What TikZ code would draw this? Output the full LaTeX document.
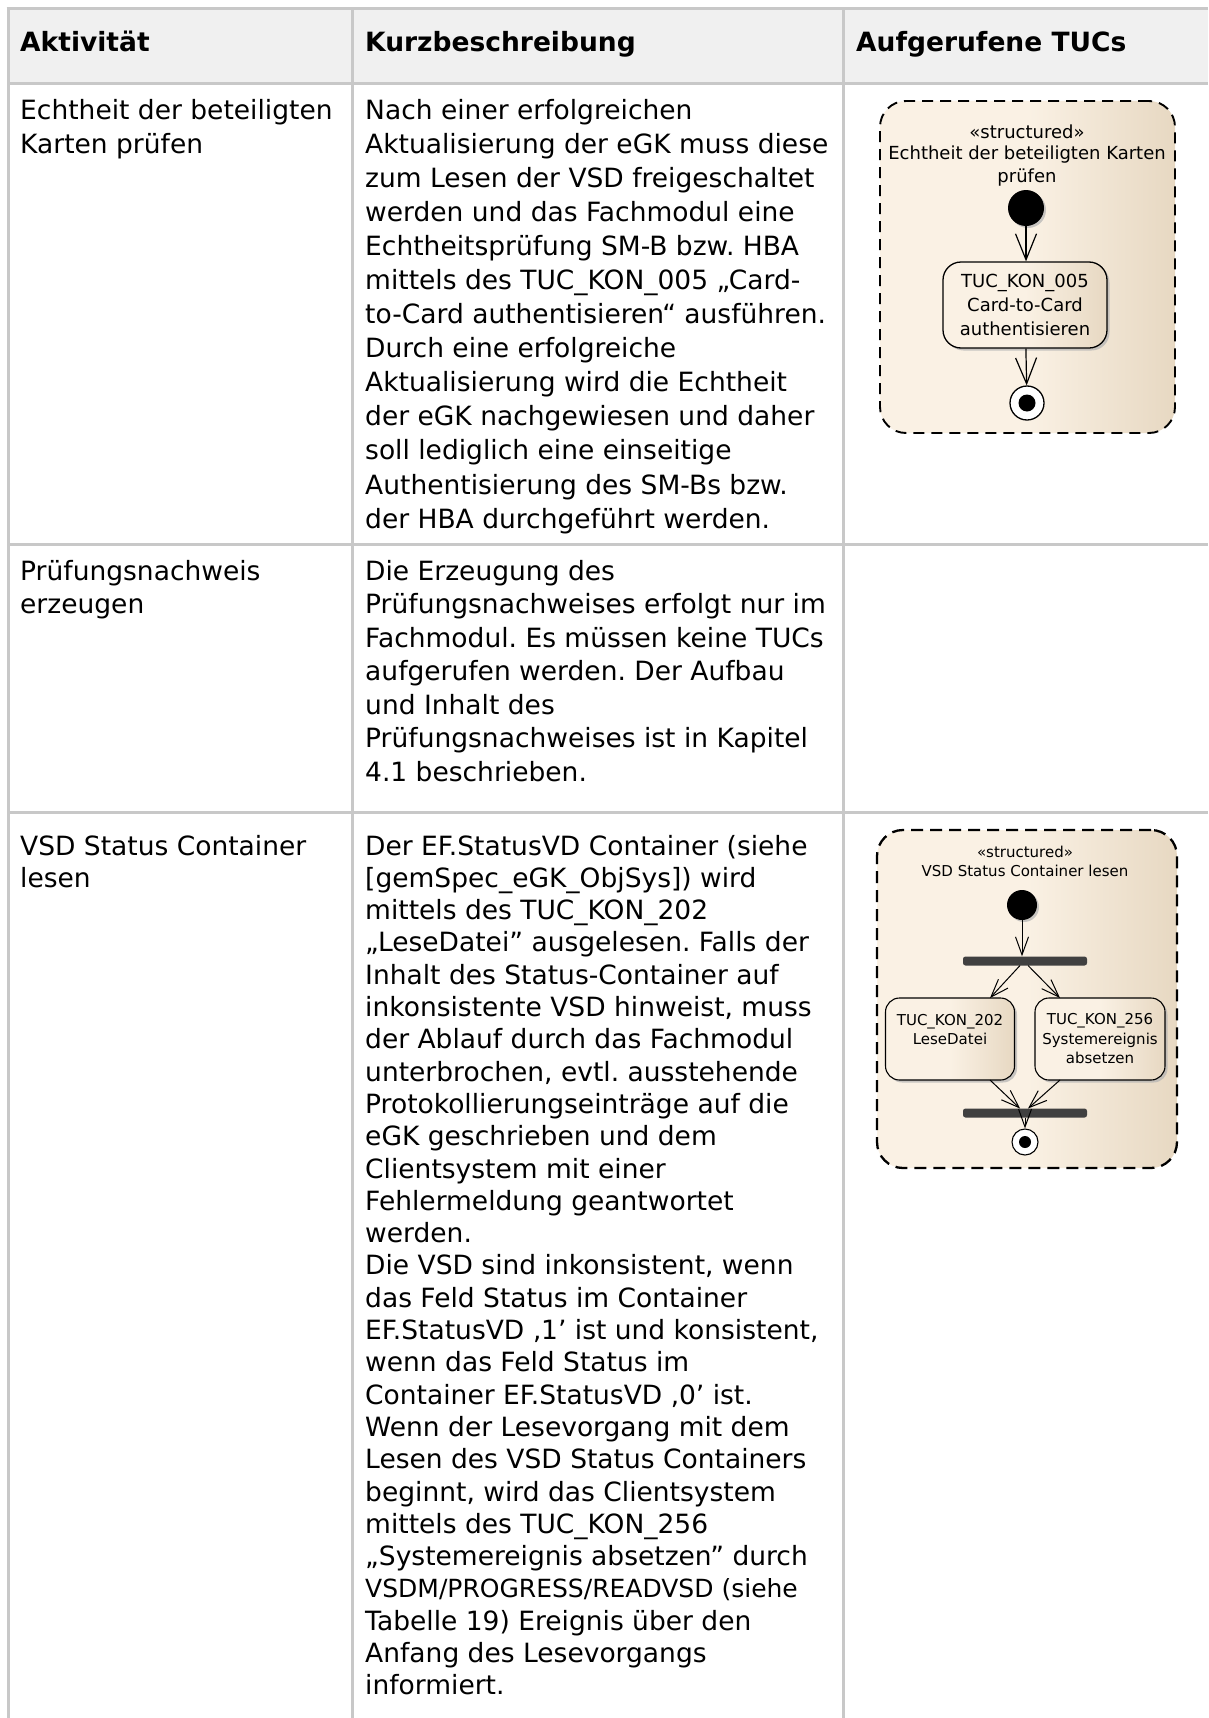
\documentclass[tikz,border=0pt]{standalone}
\usepackage{fontspec}
\setmainfont{DejaVu Sans}
\usetikzlibrary{arrows.meta,shadows}

\definecolor{gridline}{RGB}{200,200,200}
\definecolor{headbg}{RGB}{240,240,240}
\definecolor{creamL}{RGB}{250,241,228}
\definecolor{creamR}{RGB}{231,216,194}
\definecolor{barfill}{RGB}{64,64,64}

\newcommand\bodyfont{\fontsize{26.5}{34}\selectfont}
\newcommand\bodyfontB{\fontsize{26.5}{33.5}\selectfont}
\newcommand\bodyfontC{\fontsize{26.5}{32.3}\selectfont}
\newcommand\diafontA{\fontsize{18}{24}\selectfont}
\newcommand\diafontB{\fontsize{15}{19.5}\selectfont}
\newcommand\us{\textunderscore}
\newcommand\lines[1]{\begin{tabular}[t]{@{}l@{}}#1\end{tabular}}

\tikzset{
  tabline/.style={draw=gridline, line width=3pt},
  celltext/.style={anchor=base west, inner sep=0pt, font=\bodyfont},
  headtext/.style={anchor=base west, inner sep=0pt, font=\bodyfont\bfseries},
  container/.style={draw=black, line width=1.9pt, dash pattern=on 11pt off 7pt,
    rounded corners=26pt, inner sep=0pt,
    left color=creamL, right color=creamR, middle color=creamL},
  actionA/.style={draw=black, line width=1.3pt, rounded corners=18pt, inner sep=0pt,
    align=center, font=\diafontA,
    left color=creamL, right color=creamR, middle color=creamL,
    drop shadow={shadow xshift=2.5pt, shadow yshift=-2.5pt, fill=gray!60, opacity=.7}},
  actionB/.style={actionA, rounded corners=14pt, font=\diafontB, line width=1.1pt},
  titletext/.style={inner sep=0pt, align=center},
  startnode/.style={circle, fill=black, inner sep=0pt,
    drop shadow={shadow xshift=2pt, shadow yshift=-2pt, fill=gray!60, opacity=.7}},
  endring/.style={circle, draw=black, fill=white, inner sep=0pt, line width=1.3pt},
  enddot/.style={circle, fill=black, inner sep=0pt},
  forkbar/.style={fill=barfill, rounded corners=2.5pt, inner sep=0pt,
    minimum width=124pt, minimum height=9pt},
  flowA/.style={-{Straight Barb[length=26pt,width=21pt,line width=1.2pt]}, line width=1.2pt},
  flowB/.style={-{Straight Barb[length=18pt,width=13pt,line width=1pt]}, line width=1pt}
}

\begin{document}
\frenchspacing
\begin{tikzpicture}[x=1pt,y=-1pt]
\useasboundingbox (0,0) rectangle (1208,1718);
\fill[white] (0,0) rectangle (1208,1718);

% header background and table rules
\fill[headbg] (8,9) rectangle (1208,84);
\draw[tabline] (6.5,9) -- (1208,9);
\draw[tabline] (8,84) -- (1208,84);
\draw[tabline] (8,544) -- (1208,544);
\draw[tabline] (8,812) -- (1208,812);
\draw[tabline] (8,9) -- (8,1718);
\draw[tabline] (352,9) -- (352,1718);
\draw[tabline] (843,9) -- (843,1718);

% header
\node[headtext] (hA) at (20,52) {Aktivität};
\node[headtext] (hB) at (365,52) {Kurzbeschreibung};
\node[headtext] (hC) at (856,52) {Aufgerufene TUCs};

% row 1
\node[celltext] (a1) at (20,120) {\lines{Echtheit der beteiligten\\Karten prüfen}};
\node[celltext] (b1) at (365,120) {\lines{Nach einer erfolgreichen\\
Aktualisierung der eGK muss diese\\
zum Lesen der VSD freigeschaltet\\
werden und das Fachmodul eine\\
Echtheitsprüfung SM-B bzw. HBA\\
mittels des TUC\us KON\us 005 „Card-\\
to-Card authentisieren“ ausführen.\\
Durch eine erfolgreiche\\
Aktualisierung wird die Echtheit\\
der eGK nachgewiesen und daher\\
soll lediglich eine einseitige\\
Authentisierung des SM-Bs bzw.\\
der HBA durchgeführt werden.}};

% row 2
\node[celltext, font=\bodyfontB] (a2) at (20,580) {\lines{Prüfungsnachweis\\erzeugen}};
\node[celltext, font=\bodyfontB] (b2) at (365,580) {\lines{Die Erzeugung des\\
Prüfungsnachweises erfolgt nur im\\
Fachmodul. Es müssen keine TUCs\\
aufgerufen werden. Der Aufbau\\
und Inhalt des\\
Prüfungsnachweises ist in Kapitel\\
4.1 beschrieben.}};

% row 3
\node[celltext, font=\bodyfontC] (a3) at (20,855) {\lines{VSD Status Container\\lesen}};
\node[celltext, font=\bodyfontC] (b3) at (365,855) {\lines{Der EF.StatusVD Container (siehe\\{}[gemSpec\us eGK\us ObjSys]) wird\\
mittels des TUC\us KON\us 202\\
„LeseDatei” ausgelesen. Falls der\\
Inhalt des Status-Container auf\\
inkonsistente VSD hinweist, muss\\
der Ablauf durch das Fachmodul\\
unterbrochen, evtl. ausstehende\\
Protokollierungseinträge auf die\\
eGK geschrieben und dem\\
Clientsystem mit einer\\
Fehlermeldung geantwortet\\
werden.\\
Die VSD sind inkonsistent, wenn\\
das Feld Status im Container\\
EF.StatusVD ‚1’ ist und konsistent,\\
wenn das Feld Status im\\
Container EF.StatusVD ‚0’ ist.\\
Wenn der Lesevorgang mit dem\\
Lesen des VSD Status Containers\\
beginnt, wird das Clientsystem\\
mittels des TUC\us KON\us 256\\
„Systemereignis absetzen” durch\\
{\fontsize{25}{32.3}\selectfont VSDM/PROGRESS/READVSD (siehe}\\
Tabelle 19) Ereignis über den\\
Anfang des Lesevorgangs\\
informiert.}};

% activity: Echtheit der beteiligten Karten pruefen
\node[container, minimum width=295pt, minimum height=332pt] (boxA) at (1027.5,267) {};
\node[titletext, font=\diafontA] (stA) at (1027,132) {«structured»};
\node[titletext, font=\diafontA] (tA1) at (1027,155) {Echtheit der beteiligten Karten};
\node[titletext, font=\diafontA] (tA2) at (1027,178) {prüfen};
\node[startnode, minimum size=36pt] (iniA) at (1026,208) {};
\node[actionA, minimum width=164pt, minimum height=86pt] (tuc005) at (1025,305)
  {TUC\us KON\us 005\\Card-to-Card\\authentisieren};
\node[endring, minimum size=34pt] (finA) at (1027,403) {};
\node[enddot, minimum size=17pt] (finAdot) at (finA) {};
\draw[flowA] (iniA) -- (iniA |- tuc005.north);
\draw[flowA] (tuc005) -- (finA);

% activity: VSD Status Container lesen
\node[container, line width=2.3pt, dash pattern=on 12pt off 7pt,
  minimum width=300pt, minimum height=338pt] (boxB) at (1027,999) {};
\node[titletext, font=\diafontB] (stB) at (1025,852) {«structured»};
\node[titletext, font=\diafontB] (tB) at (1025,871) {VSD Status Container lesen};
\node[startnode, minimum size=30pt] (iniB) at (1022,905) {};
\node[forkbar] (fork) at (1025,961) {};
\node[actionB, minimum width=129pt, minimum height=82pt] (tuc202) at (950,1039)
  {TUC\us KON\us 202\\LeseDatei\\[0pt]\phantom{x}};
\node[actionB, minimum width=130pt, minimum height=82pt] (tuc256) at (1100,1039)
  {TUC\us KON\us 256\\Systemereignis\\absetzen};
\node[forkbar] (join) at (1025,1113) {};
\node[endring, minimum size=26pt, line width=1.1pt] (finB) at (1025,1142) {};
\node[enddot, minimum size=12pt] (finBdot) at (finB) {};
\coordinate (forkL) at (1020,965.5);
\coordinate (forkR) at (1028,965.5);
\coordinate (joinL) at (1020,1108.5);
\coordinate (joinR) at (1028,1108.5);
\draw[flowB] (iniB) -- (iniB |- fork.north);
\draw[flowB] (forkL) -- (990,998);
\draw[flowB] (forkR) -- (1060,998);
\draw[flowB] (990,1080) -- (joinL);
\draw[flowB] (1060,1080) -- (joinR);
\draw[flowB] (join) -- (finB);
\end{tikzpicture}
\end{document}
